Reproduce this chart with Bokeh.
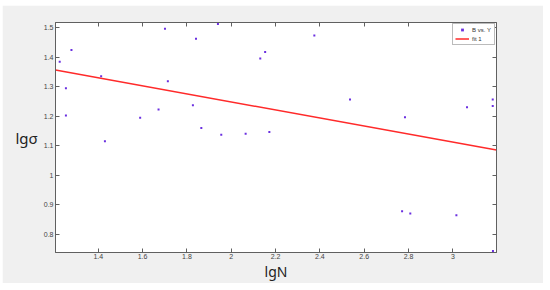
from bokeh.plotting import figure
from bokeh.models import Range1d, LinearAxis, FixedTicker, Legend, LegendItem, CustomJSTickFormatter
from bokeh.embed import file_html
from bokeh.resources import INLINE

# data
lgN = [1.226, 1.254, 1.254, 1.279, 1.413, 1.430, 1.589, 1.672, 1.701, 1.714,
       1.827, 1.841, 1.865, 1.955, 1.940, 2.065, 2.172, 2.131, 2.153, 2.375,
       2.536, 2.784, 2.771, 2.808, 3.016, 3.064, 3.180, 3.180, 3.181]
lgs = [1.385, 1.203, 1.295, 1.425, 1.336, 1.116, 1.195, 1.223, 1.497, 1.319,
       1.238, 1.463, 1.161, 1.138, 1.513, 1.141, 1.147, 1.396, 1.418, 1.474,
       1.257, 1.197, 0.879, 0.871, 0.865, 1.231, 1.257, 1.235, 0.744]
fit_x = [1.207, 3.197]
fit_y = [1.357, 1.086]
x_ticks = [1.4, 1.6, 1.8, 2.0, 2.2, 2.4, 2.6, 2.8, 3.0]
y_ticks = [0.8, 0.9, 1.0, 1.1, 1.2, 1.3, 1.4, 1.5]
x_labels = {1.4: "1.4", 1.6: "1.6", 1.8: "1.8", 2.0: "2", 2.2: "2.2", 2.4: "2.4",
            2.6: "2.6", 2.8: "2.8", 3.0: "3"}
y_labels = {0.8: "0.8", 0.9: "0.9", 1.0: "1", 1.1: "1.1", 1.2: "1.2", 1.3: "1.3",
            1.4: "1.4", 1.5: "1.5"}

AX = "#606060"
FONT = "Liberation Sans"

p = figure(width=541, height=278, output_backend="svg", toolbar_location=None,
           x_range=Range1d(1.207, 3.197), y_range=Range1d(0.739, 1.518),
           x_axis_location=None, y_axis_location=None,
           min_border_left=53, min_border_right=47, min_border_top=17, min_border_bottom=29,
           background_fill_color="white", border_fill_color="#f0f0f0",
           outline_line_color=AX)
p.margin = (5, 0, 0, 2)
p.xgrid.visible = False
p.ygrid.visible = False


def style(ax, ticks, labels, show):
    ax.ticker = FixedTicker(ticks=ticks)
    ax.axis_line_color = AX
    ax.major_tick_line_color = AX
    ax.major_tick_in = 4
    ax.major_tick_out = 0
    ax.minor_tick_line_color = None
    ax.major_label_text_font = FONT
    ax.major_label_text_color = "#444444"
    if show:
        ax.major_label_overrides = labels
        ax.major_label_text_font_size = "7px"
        ax.major_label_standoff = 1
    else:
        ax.formatter = CustomJSTickFormatter(code="return ''")
        ax.major_label_standoff = 0


xb = LinearAxis(axis_label="lgN")
style(xb, x_ticks, x_labels, True)
xb.axis_label_text_font = "Noto Sans"
xb.axis_label_text_font_size = "14px"
xb.axis_label_text_font_style = "normal"
xb.axis_label_text_color = "#222222"
xb.axis_label_standoff = 0
p.add_layout(xb, "below")

xt = LinearAxis()
style(xt, x_ticks, x_labels, False)
p.add_layout(xt, "above")

yl = LinearAxis(axis_label="lgσ")
style(yl, y_ticks, y_labels, True)
yl.major_label_standoff = 2
yl.axis_label_text_font = "Noto Sans"
yl.axis_label_text_font_size = "15px"
yl.axis_label_text_font_style = "normal"
yl.axis_label_text_color = "#222222"
yl.axis_label_orientation = "horizontal"
yl.axis_label_standoff = 3
p.add_layout(yl, "left")

yr = LinearAxis()
style(yr, y_ticks, y_labels, False)
p.add_layout(yr, "right")

pts = p.scatter(lgN, lgs, marker="square", size=2, color="#6a2fe0", line_width=0)
ln = p.line(fit_x, fit_y, line_color="#ff2a2a", line_width=1.5)

legend = Legend(items=[LegendItem(label="B vs. Y", renderers=[pts]),
                       LegendItem(label="fit 1", renderers=[ln])],
                location="top_right", label_text_font=FONT, label_text_font_size="6px",
                label_text_color="#333333",
                glyph_height=7, glyph_width=14, label_height=7, label_standoff=3,
                spacing=2, padding=2, margin=1, border_line_color="#777777",
                background_fill_color="white", background_fill_alpha=1)
p.add_layout(legend)

open("out.html", "w").write(file_html(p, INLINE))
